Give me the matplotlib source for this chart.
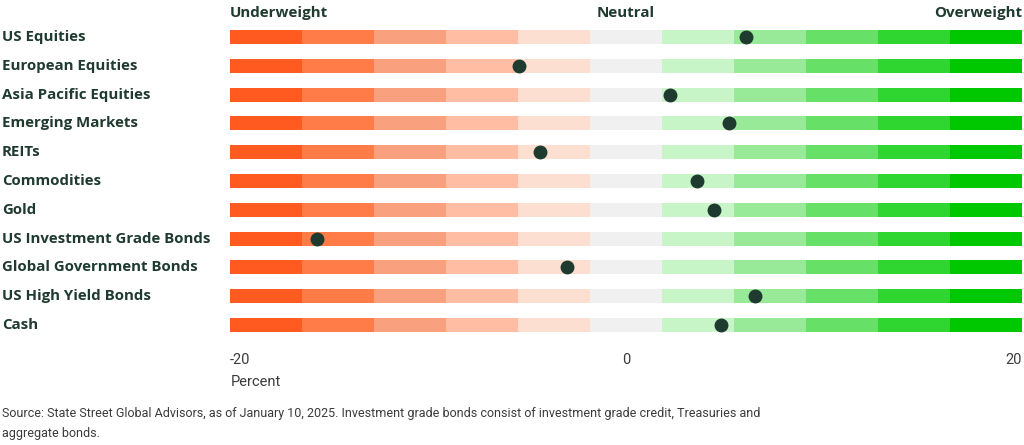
import matplotlib.pyplot as plt
import matplotlib.transforms as mtransforms
import numpy as np

# asset classes, top to bottom
categories = [
    "US Equities",
    "European Equities",
    "Asia Pacific Equities",
    "Emerging Markets",
    "REITs",
    "Commodities",
    "Gold",
    "US Investment Grade Bonds",
    "Global Government Bonds",
    "US High Yield Bonds",
    "Cash",
]
positions = [6.05, -5.4, 2.2, 5.2, -4.35, 3.6, 4.45, -15.6, -3.0, 6.5, 4.8]

tick_values = [-20, 0, 20]
tick_labels = ["-20", "0", "20"]
header_labels = ["Underweight", "Neutral", "Overweight"]

band_colors = [
    "#ff5a1f", "#ff7b47", "#f9a07f", "#ffbea3", "#fddfd1",
    "#f1f0f0",
    "#c8f5c8", "#98ea98", "#66e066", "#30d630", "#00c800",
]

dark = "#1f3a2f"
source = ("Source: State Street Global Advisors, as of January 10, 2025. Investment grade bonds "
          "consist of investment grade credit, Treasuries and\naggregate bonds.")

fig = plt.figure(figsize=(10.24, 4.45), dpi=100)
ax = fig.add_axes([230 / 1024, 1 - 339.4 / 445, 792 / 1024, 316.8 / 445])

edges = np.linspace(tick_values[0], tick_values[-1], len(band_colors) + 1)
rows = np.arange(len(categories))
for i in rows:
    ax.barh(np.full(len(band_colors), i), np.diff(edges), left=edges[:-1],
            height=0.49, color=band_colors, linewidth=0)
ax.plot(positions, rows, "o", color=dark, markersize=9, zorder=3)

ax.set_xlim(tick_values[0], tick_values[-1])
ax.set_ylim(len(categories) - 0.5, -0.5)
for s in ax.spines.values():
    s.set_visible(False)
ax.set_yticks([])
ax.set_xticks(tick_values)
ax.set_xticklabels(tick_labels, fontsize=10.5, color="#3b3b3b", family="Roboto")
ax.tick_params(axis="x", length=0, pad=10)
for lab, ha in zip(ax.get_xticklabels(), ["left", "center", "right"]):
    lab.set_ha(ha)

# header labels above the bands
for v, t, ha in zip(tick_values, header_labels, ["left", "center", "right"]):
    ax.text(v, 1.031, t, transform=ax.get_xaxis_transform(), ha=ha, va="center",
            fontsize=10.9, fontweight="bold", color=dark, family="Open Sans")

# row labels at the left edge of the figure
trans = mtransforms.blended_transform_factory(fig.transFigure, ax.transData)
for i, c in zip(rows, categories):
    ax.text(2 / 1024, i, c, transform=trans, ha="left", va="center",
            fontsize=10.8, fontweight="bold", color=dark, family="Open Sans")

fig.text(231 / 1024, 1 - 382 / 445, "Percent", ha="left", va="center",
         fontsize=10.5, color="#3b3b3b", family="Roboto")
fig.text(2 / 1024, 1 - 424 / 445, source, ha="left", va="center",
         fontsize=9.0, color="#3b3b3b", linespacing=1.7, family="Roboto")

plt.savefig("out.png", dpi=100)
